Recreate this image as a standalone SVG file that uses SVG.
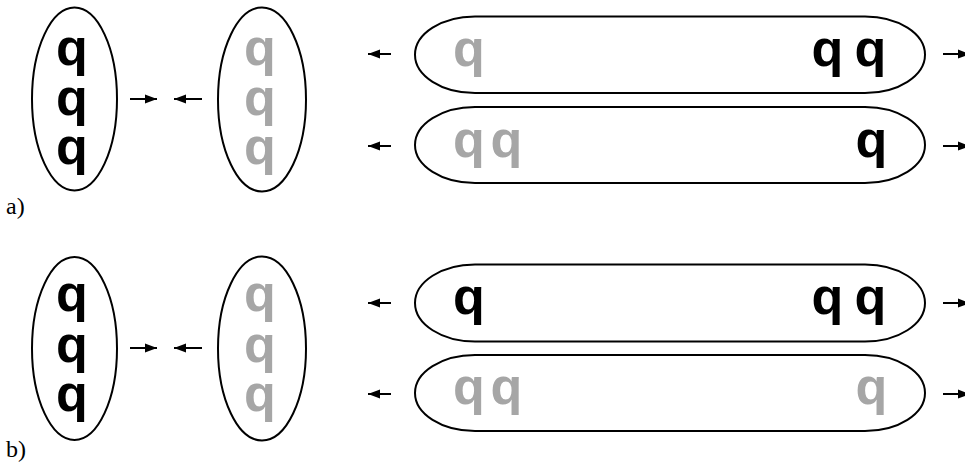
<svg xmlns="http://www.w3.org/2000/svg" width="965" height="462" viewBox="0 0 965 462">
<style>
.sh{fill:none;stroke:#000;stroke-width:2}
.q{font-family:"Liberation Sans",Arial,sans-serif;font-weight:bold;font-size:52px;text-anchor:middle}
.k{fill:#000}
.g{fill:#a6a6a6}
.lab{font-family:"Liberation Serif","Times New Roman",serif;font-size:24px;fill:#000}
.ar{stroke:#000;stroke-width:2;fill:none;marker-end:url(#ah)}
</style>
<defs>
<marker id="ah" markerUnits="userSpaceOnUse" markerWidth="14" markerHeight="10" refX="12" refY="5" orient="auto">
<path d="M0,0.5 L12,5 L0,9.5 Z" fill="#000"/>
</marker>
</defs>
<rect width="965" height="462" fill="#fff"/>
<g id="a-left"><ellipse class="sh" cx="74.5" cy="99" rx="42.5" ry="91.5"/>
<text class="q k" x="72" y="65">q</text><text class="q k" x="72" y="115">q</text><text class="q k" x="72" y="164">q</text></g>
<g id="a-right"><ellipse class="sh" cx="262" cy="99.5" rx="44" ry="92"/>
<text class="q g" x="260" y="65">q</text><text class="q g" x="260" y="115">q</text><text class="q g" x="260" y="164">q</text></g>
<g id="a-cap1"><rect class="sh" x="415" y="16.5" width="510" height="76.5" rx="60" ry="38.25"/>
<text class="q g" x="469" y="66">q</text><text class="q k" x="827.5" y="66">q</text><text class="q k" x="870.5" y="66">q</text></g>
<g id="a-cap2"><rect class="sh" x="415" y="107" width="510" height="76" rx="60" ry="38"/>
<text class="q g" x="469" y="157">q</text><text class="q g" x="506.5" y="157">q</text><text class="q k" x="871.5" y="157">q</text></g>
<g id="b-left"><ellipse class="sh" cx="74.5" cy="348.5" rx="42.5" ry="91.5"/>
<text class="q k" x="72" y="311">q</text><text class="q k" x="72" y="362">q</text><text class="q k" x="72" y="411">q</text></g>
<g id="b-right"><ellipse class="sh" cx="262" cy="348.5" rx="44" ry="92"/>
<text class="q g" x="260" y="311">q</text><text class="q g" x="260" y="362">q</text><text class="q g" x="260" y="411">q</text></g>
<g id="b-cap1"><rect class="sh" x="415" y="264.5" width="510" height="77" rx="60" ry="38.5"/>
<text class="q k" x="469" y="314">q</text><text class="q k" x="827.5" y="314">q</text><text class="q k" x="870.5" y="314">q</text></g>
<g id="b-cap2"><rect class="sh" x="415" y="355" width="510" height="76" rx="60" ry="38"/>
<text class="q g" x="469" y="404">q</text><text class="q g" x="506.5" y="404">q</text><text class="q g" x="871.5" y="404">q</text></g>
<g id="connectors">
<line class="ar" x1="130" y1="99" x2="157" y2="99"/>
<line class="ar" x1="202" y1="99" x2="174" y2="99"/>
<line class="ar" x1="391" y1="54" x2="368" y2="54"/>
<line class="ar" x1="391" y1="146" x2="368" y2="146"/>
<line class="ar" x1="943" y1="54" x2="970" y2="54"/>
<line class="ar" x1="943" y1="146" x2="970" y2="146"/>
<line class="ar" x1="130" y1="348" x2="157" y2="348"/>
<line class="ar" x1="202" y1="348" x2="174" y2="348"/>
<line class="ar" x1="391" y1="303" x2="368" y2="303"/>
<line class="ar" x1="391" y1="394" x2="368" y2="394"/>
<line class="ar" x1="943" y1="303" x2="970" y2="303"/>
<line class="ar" x1="943" y1="394" x2="970" y2="394"/>
</g>
<text class="lab" x="6" y="214">a)</text>
<text class="lab" x="6" y="457">b)</text>
</svg>
